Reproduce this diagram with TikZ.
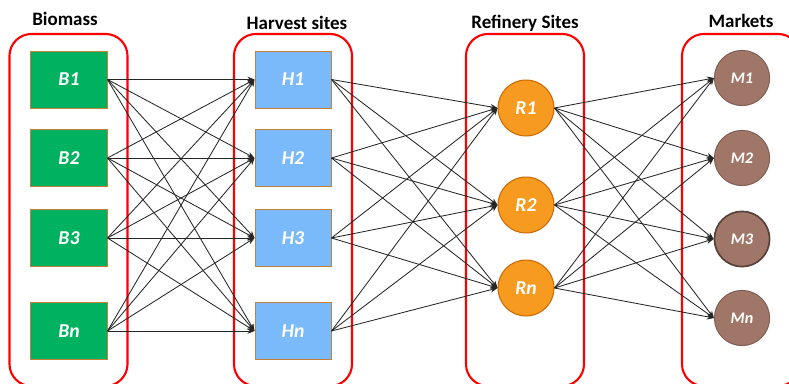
\documentclass[tikz,border=0pt]{standalone}
\usepackage{fontspec}
\setmainfont{Carlito}
\usetikzlibrary{arrows.meta}
\definecolor{biogreen}{RGB}{0,178,96}
\definecolor{harvblue}{RGB}{122,186,250}
\definecolor{refinorange}{RGB}{247,154,32}
\definecolor{marketbrown}{RGB}{160,118,104}
\definecolor{edgebrown}{RGB}{196,128,56}

\begin{document}
\begin{tikzpicture}[x=0.025cm,y=-0.025cm,->,>={Stealth[length=5pt,width=4pt]},draw=black!85,line width=0.6pt]
    \tikzstyle{site}=[line width=0.7pt,text=white,inner sep=0pt,font=\fontsize{14}{16}\selectfont\bfseries\itshape]
    \tikzstyle{biomass box}=[site,rectangle,draw=edgebrown,fill=biogreen,minimum width=1.9cm,minimum height=1.425cm]
    \tikzstyle{harvest box}=[site,rectangle,draw=edgebrown,fill=harvblue,minimum width=1.9cm,minimum height=1.425cm]
    \tikzstyle{refinery}=[site,circle,draw=orange!80!black,fill=refinorange,minimum size=1.4cm]
    \tikzstyle{market}=[site,circle,draw=marketbrown!80!black,fill=marketbrown,minimum size=1.38cm,font=\fontsize{11.5}{13}\selectfont\bfseries\itshape]
    \tikzstyle{dark market}=[market,draw=marketbrown!55!black,line width=1.2pt]
    \tikzstyle{group}=[draw=red,line width=1.5pt,rounded corners=0.55cm,minimum width=2.95cm,minimum height=8.8cm]
    \tikzstyle{title}=[font=\fontsize{13.5}{16}\selectfont\bfseries]

    \useasboundingbox (0,0) rectangle (789,383);

    % Draw the red frames round each stage
    \node[group] (G-b) at (68.5,210) {};
    \node[group] (G-h) at (293,210) {};
    \node[group] (G-r) at (525,210) {};
    \node[group] (G-m) at (741,210) {};

    % Stage titles
    \node[title] (T-b) at (65,19) {Biomass};
    \node[title] (T-h) at (297,23) {Harvest sites};
    \node[title] (T-r) at (525,23) {Refinery Sites};
    \node[title] (T-m) at (741,21) {Markets};

    % Draw the biomass and harvest site nodes
    \foreach \name / \y in {1/79.5,2/158,3/238,n/331}
        \node[biomass box] (B-\name) at (69,\y) {B\name};
    \foreach \name / \y in {1/79.5,2/158,3/238,n/331}
        \node[harvest box] (H-\name) at (293,\y) {H\name};

    % Draw the refinery nodes
    \foreach \name / \y in {1/108,2/205,n/288}
        \node[refinery] (R-\name) at (526,\y) {R\name};

    % Draw the market nodes (M3 has a darker rim)
    \foreach \name / \y / \kind in {1/78/market,2/158/market,3/239/dark market,n/318/market}
        \node[\kind] (M-\name) at (742,\y) {M\name};

    % Connect every biomass node with every harvest site
    \foreach \source in {1,2,3,n}
        \foreach \dest in {1,2,3,n}
            \path (B-\source.east) edge (H-\dest.west);

    % Connect every harvest site with every refinery
    \foreach \source in {1,2,3,n}
        \foreach \dest in {1,2,n}
            \path (H-\source.east) edge (R-\dest.west);

    % Connect every refinery with every market
    \foreach \source in {1,2,n}
        \foreach \dest in {1,2,3,n}
            \path (R-\source.east) edge (M-\dest.west);
\end{tikzpicture}
\end{document}
